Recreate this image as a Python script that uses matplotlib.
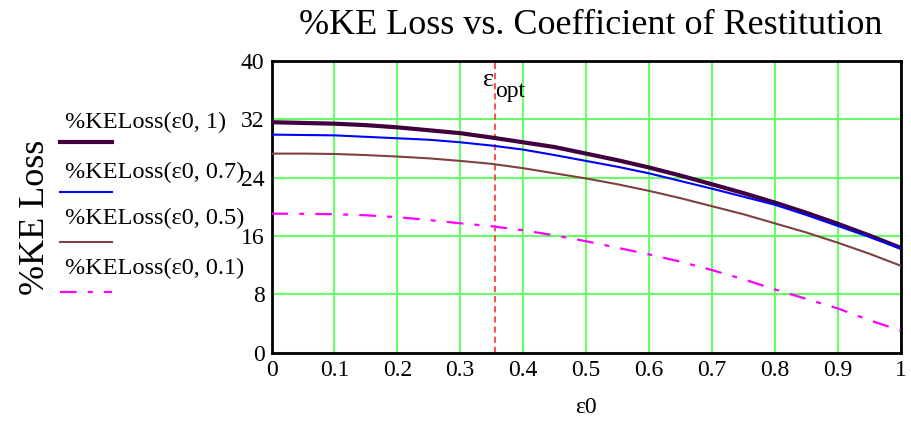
## %KE loss vs coefficient of restitution (Mathcad-style plot)

import numpy as np
import matplotlib.pyplot as plt
from matplotlib.lines import Line2D

plt.rcParams['font.family'] = ['Liberation Serif', 'DejaVu Serif']
plt.rcParams['lines.scale_dashes'] = False

eps0 = [0.0, 0.05, 0.1, 0.15, 0.2, 0.25, 0.3, 0.35, 0.4, 0.45, 0.5,
        0.55, 0.6, 0.65, 0.7, 0.75, 0.8, 0.85, 0.9, 0.95, 1.0]
loss_1 = [31.6, 31.5, 31.4, 31.2, 30.9, 30.5, 30.1, 29.5, 28.85, 28.2, 27.3,
          26.4, 25.4, 24.3, 23.1, 21.9, 20.6, 19.2, 17.7, 16.1, 14.4]
loss_07 = [29.9, 29.85, 29.8, 29.6, 29.4, 29.2, 28.85, 28.4, 27.85, 27.1, 26.3,
           25.5, 24.6, 23.55, 22.5, 21.4, 20.3, 18.9, 17.4, 15.9, 14.3]
loss_05 = [27.3, 27.3, 27.25, 27.1, 26.9, 26.65, 26.3, 25.9, 25.3, 24.6, 23.9,
           23.1, 22.2, 21.2, 20.1, 19.0, 17.75, 16.5, 15.1, 13.6, 11.95]
loss_01 = [19.07, 19.05, 19.0, 18.85, 18.6, 18.2, 17.75, 17.35, 16.8, 16.1, 15.3,
           14.4, 13.5, 12.5, 11.35, 10.1, 8.7, 7.4, 6.1, 4.5, 3.05]
eps_opt = 0.355

labels = ['%KELoss(ε0, 1)', '%KELoss(ε0, 0.7)', '%KELoss(ε0, 0.5)', '%KELoss(ε0, 0.1)']
colors = ['#400040', '#0000ff', '#804040', '#ff00ff']
widths = [3.0, 1.5, 1.5, 1.6]
dashes = [None, None, None, (12, 8, 3.6, 8)]

fig = plt.figure(figsize=(9.12, 4.28), dpi=100)
ax = fig.add_axes([0.2977, 0.1755, 0.6897, 0.6822])

series = [loss_1, loss_07, loss_05, loss_01]
for i in range(4):
  ln, = ax.plot(eps0, series[i], color=colors[i], linewidth=widths[i], zorder=3)
  if dashes[i] is not None:
    ln.set_dashes(dashes[i])

ax.axvline(eps_opt, color='#ff3030', linewidth=1.2, dashes=(4.5, 2.8), zorder=2)
ax.text(eps_opt - 0.019, 36.6, 'ε', fontsize=19, ha='left', va='baseline')
ax.text(eps_opt + 0.001, 35.0, 'opt', fontsize=17, ha='left', va='baseline')

ax.set_xlim(0, 1)
ax.set_ylim(0, 40)
ax.set_xticks(np.arange(0, 1.01, 0.1))
ax.set_xticklabels(['0', '0.1', '0.2', '0.3', '0.4', '0.5', '0.6', '0.7', '0.8', '0.9', '1'])
ax.set_yticks(np.arange(0, 41, 8))
ax.tick_params(length=0, labelsize=17, pad=5)
ax.grid(color='#66ff66', linewidth=1.5)
ax.set_axisbelow(True)
for s in ax.spines.values():
  s.set_linewidth(2)
  s.set_color('black')

fig.text(591 / 912, 1 - 25 / 428, '%KE Loss vs. Coefficient of Restitution',
         fontsize=26, ha='center', va='center')
ax.set_xlabel('ε0', fontsize=17, labelpad=12)
fig.text(35 / 912, 1 - 217 / 428, '%KE Loss', rotation=90, fontsize=26,
         ha='center', va='center')

# legend drawn by hand: label above a short line sample
text_y = [122, 172, 218, 268]
line_y = [142, 192, 242, 292]
for i in range(4):
  fig.text(65 / 912, 1 - text_y[i] / 428, labels[i], fontsize=17.5, ha='left', va='center')
  ln = Line2D([60 / 912, 112 / 912], [1 - line_y[i] / 428] * 2, color=colors[i],
              linewidth=widths[i], transform=fig.transFigure)
  if dashes[i] is not None:
    ln.set_dashes(dashes[i])
  fig.add_artist(ln)

plt.savefig('out.png')
